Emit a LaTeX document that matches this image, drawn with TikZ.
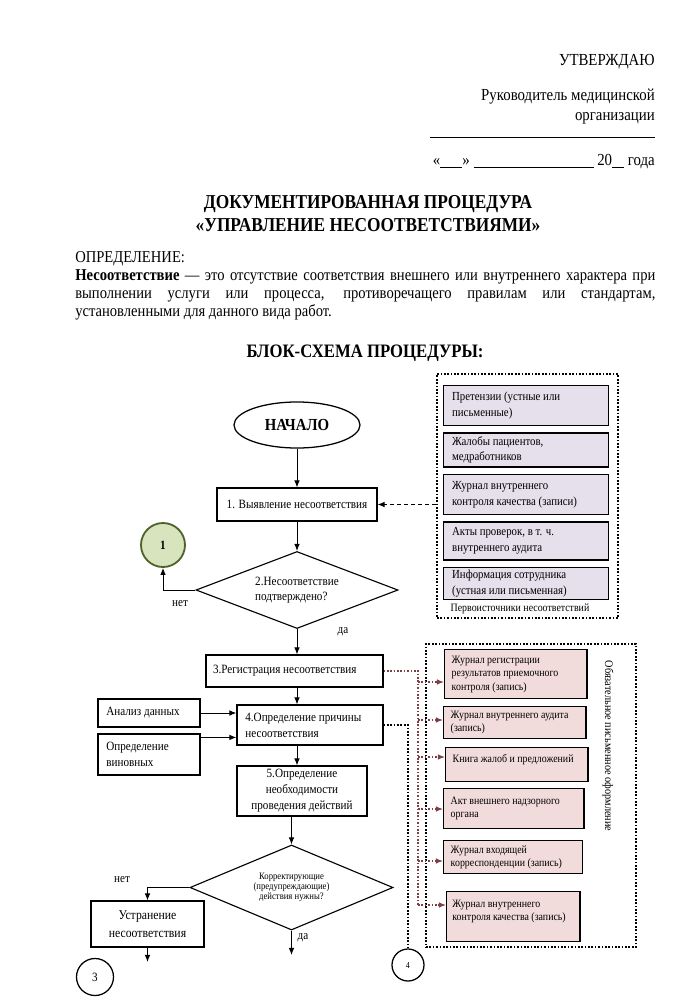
\documentclass[tikz,border=0pt]{standalone}
\usepackage{fontspec}
\setmainfont{Liberation Serif}[FakeStretch=0.88]
\usetikzlibrary{shapes,arrows.meta,positioning,calc,fit}

\definecolor{srcfill}{HTML}{E5E0EC}
\definecolor{jrnfill}{HTML}{F2DCDB}
\definecolor{jrnred}{HTML}{7F3F46}
\definecolor{okfill}{HTML}{D7E4BD}
\definecolor{okline}{HTML}{4F6228}

\begin{document}
\begin{tikzpicture}[x=0.025cm, y=-0.025cm,
  hdr/.style={font=\fontsize{12}{14.2}\selectfont, inner sep=0pt},
  ttl/.style={font=\fontsize{14}{16.3}\selectfont\bfseries, align=center, inner sep=0pt},
  startnode/.style={
    draw, ellipse, line width=0.9pt, minimum width=3.15cm, minimum height=1.15cm,
    font=\fontsize{12}{14}\selectfont\bfseries
  },
  procbox/.style={
    draw, rectangle, line width=0.8pt, inner xsep=6pt, inner ysep=2pt,
    font=\fontsize{9}{11.3}\selectfont
  },
  decision/.style={draw, diamond, aspect=2.6, line width=0.8pt, inner sep=0pt},
  srcbox/.style={
    draw, rectangle, line width=1pt, fill=srcfill, text width=3.7cm,
    inner xsep=6pt, inner ysep=2pt, align=flush left, font=\fontsize{8.75}{11}\selectfont
  },
  jrnbox/.style={
    draw, rectangle, line width=1pt, fill=jrnfill, text width=3.2cm, anchor=north west,
    inner xsep=5pt, inner ysep=2pt, align=flush left, font=\fontsize{8}{9.5}\selectfont
  },
  groupframe/.style={draw, line width=0.9pt, dash pattern=on 1.2pt off 1.2pt, inner sep=0pt},
  numcirc/.style={draw, circle, line width=0.9pt, font=\fontsize{9}{10}\selectfont},
  okcirc/.style={numcirc, fill=okfill, draw=okline, line width=1.3pt, font=\fontsize{9}{10}\selectfont\bfseries},
  lbl/.style={font=\fontsize{9}{10}\selectfont, inner sep=1pt},
  link/.style={line width=0.7pt, -{Latex[length=5pt,width=4pt]}},
  dashlink/.style={link, densely dashed},
  jlink/.style={jrnred, line width=0.9pt, dash pattern=on 1.2pt off 1.2pt},
  dotline/.style={line width=0.8pt, dash pattern=on 1.2pt off 1.2pt}
]
\useasboundingbox (0,0) rectangle (681,1000);

% Approval block
\node[hdr, anchor=east] (approve) at (655,62) {УТВЕРЖДАЮ};
\node[hdr, anchor=east, align=right] (head) at (655,107) {Руководитель медицинской\\организации};
\draw[line width=0.7pt] (430,137) -- (655,137);
\node[hdr, anchor=east] (date) at (655,162)
  {«\rule[-1.5pt]{0.55cm}{0.5pt}» \rule[-1.5pt]{3cm}{0.5pt} 20\rule[-1.5pt]{0.3cm}{0.5pt} года};

% Title and definition
\node[ttl] (title) at (368,214) {ДОКУМЕНТИРОВАННАЯ ПРОЦЕДУРА\\«УПРАВЛЕНИЕ НЕСООТВЕТСТВИЯМИ»};
\node[anchor=north west, text width=14.5cm, align=justify, inner sep=0pt,
      font=\fontsize{11.8}{12.8}\selectfont] (defn) at (75,251)
  {ОПРЕДЕЛЕНИЕ:\\\textbf{Несоответствие} — это отсутствие соответствия внешнего или внутреннего характера при\linebreak
   выполнении услуги или процесса, противоречащего правилам или стандартам,\linebreak
   установленными для данного вида работ.};
\node[ttl, font=\fontsize{13.5}{15}\selectfont\bfseries] (scheme) at (365,353) {БЛОК-СХЕМА ПРОЦЕДУРЫ:};

% Main flow
\node[startnode] (start) at (297,425) {НАЧАЛО};
\node[procbox, minimum width=4cm, minimum height=0.825cm] (b1) at (297,504.5) {1. Выявление несоответствия};
\node[decision, minimum width=5.05cm, minimum height=1.925cm, align=flush left,
      font=\fontsize{9}{10.6}\selectfont] (d2) at (297,590) {2.Несоответствие\\подтверждено?};
\node[okcirc, minimum size=1.1cm] (n1) at (163,545) {1};
\node[lbl] (no1) at (180,604) {нет};
\node[lbl] (yes1) at (343,632) {да};

\node[procbox, text width=4.07cm, inner xsep=5pt, minimum height=0.8cm, align=flush left] (b3) at (294.5,671) {3.Регистрация несоответствия};
\node[procbox, text width=3.23cm, minimum height=1cm, align=flush left] (b4) at (310,725) {4.Определение причины\\несоответствия};
\node[procbox, text width=2.13cm, minimum height=0.7cm, align=flush left] (an) at (149,713) {Анализ данных};
\node[procbox, text width=2.13cm, minimum height=1.025cm, align=flush left] (gu) at (149,754.5) {Определение\\виновных};
\node[procbox, minimum width=3.25cm, minimum height=1.25cm, align=center] (b5) at (302,791) {5.Определение\\необходимости\\проведения действий};

\node[decision, minimum width=5.075cm, minimum height=2.125cm, align=center,
      font=\fontsize{7}{7.2}\selectfont] (d3) at (291.5,887.5) {Корректирующие\\(предупреждающие)\\действия нужны?};
\node[lbl] (no2) at (122,880) {нет};
\node[lbl] (yes2) at (303,938) {да};
\node[procbox, minimum width=2.825cm, minimum height=1.15cm, align=center,
      font=\fontsize{9.5}{12.7}\selectfont] (b6) at (147.5,924) {Устранение\\несоответствия};
\node[numcirc, minimum size=0.925cm] (n3) at (95,977) {3};
\node[numcirc, minimum size=0.8cm, font=\fontsize{6.5}{7}\selectfont] (n4) at (408,965) {4};
\coordinate (out3) at (147.5,962);
\coordinate (out4) at (291.5,955);
\coordinate (guout) at ($(gu.north east)+(0,4)$);

\draw[link] (start) -- (b1);
\draw[link] (b1) -- (d2);
\draw[link] (d2.west) -| (n1.south);
\draw[link] (d2.south) -- (d2.south |- b3.north);
\draw[link] (b3.south -| d2.south) -- (b4.north -| d2.south);
\draw[link] (an.east) -- (an.east -| b4.west);
\draw[link] (guout) -- (guout -| b4.west);
\draw[link] (b4.south -| d2.south) -- (b5.north -| d2.south);
\draw[link] (b5.south -| d3.north) -- (d3.north);
\draw[link] (d3.west) -| (b6.north);
\draw[link] (b6.south) -- (out3);
\draw[link] (d3.south) -- (out4);
\draw[dotline] (b4.east) -| (n4.north);

% Sources of nonconformities
\node[groupframe, fit={(437,374) (618,618)}] (src) {};
\node[srcbox, minimum height=1cm, anchor=north west] (srca) at (443,385) {Претензии (устные или\\письменные)};
\node[srcbox, minimum height=0.85cm, below=0.15cm of srca] (srcb) {Жалобы пациентов,\\медработников};
\node[srcbox, minimum height=1cm, below=0.15cm of srcb] (srcc) {Журнал внутреннего\\контроля качества (записи)};
\node[srcbox, minimum height=0.95cm, below=0.15cm of srcc] (srcd) {Акты проверок, в т. ч.\\внутреннего аудита};
\node[srcbox, minimum height=0.8cm, below=0.15cm of srcd] (srce) {Информация сотрудника\\(устная или письменная)};
\node[font=\fontsize{8}{9}\selectfont] (srclbl) at (520,609) {Первоисточники несоответствий};
\draw[dashlink] (src.west |- b1.east) -- (b1.east);

% Mandatory written records
\node[groupframe, fit={(426,644) (636,947)}] (jrn) {};
\node[jrnbox, minimum height=1.225cm] (j1) at (444,649) {Журнал регистрации\\результатов приемочного\\контроля (запись)};
\node[jrnbox, minimum height=0.8cm] (j2) at (443,706) {Журнал внутреннего аудита\\(запись)};
\node[jrnbox, minimum height=0.85cm] (j3) at (445,747) {Книга жалоб и предложений\\~};
\node[jrnbox, minimum height=1cm, text width=3.15cm] (j4) at (443,788) {Акт внешнего надзорного\\органа};
\node[jrnbox, minimum height=0.825cm, text width=3.12cm] (j5) at (443,840) {Журнал входящей\\корреспонденции (запись)};
\node[jrnbox, minimum height=1.25cm, text width=3.05cm, inner xsep=4pt] (j6) at (446,891) {Журнал внутреннего\\контроля качества (запись)\\~};
\node[rotate=-90, font=\fontsize{8.3}{9}\selectfont] (jrnlbl) at (608,746) {Обязательное письменное оформление};

% Bus from registration to the records
\coordinate (bus) at (418,669);
\draw[jlink] (b3.east) -- (b3.east -| bus) -- ($(bus |- j6.north)+(0,14)$);
\foreach \i/\dy in {1/33,2/14,3/10,4/21,5/21,6/14} {
  \draw[jlink, -{Latex[length=5pt,width=4pt]}] ($(bus |- j\i.north)+(0,\dy)$) -- ($(j\i.north west)+(0,\dy)$);
}

\end{tikzpicture}
\end{document}
